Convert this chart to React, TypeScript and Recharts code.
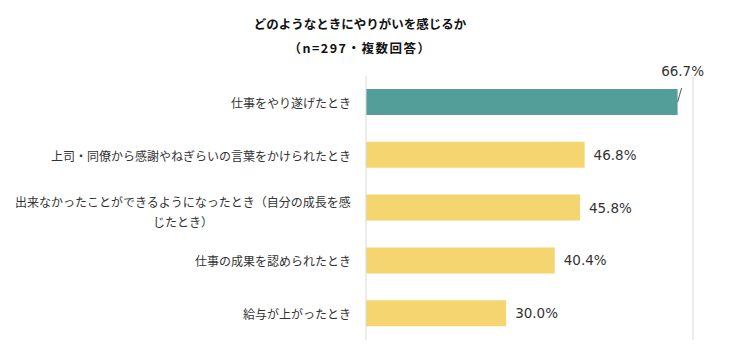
import React from 'react';
import { BarChart, Bar, XAxis, YAxis, Cell, LabelList, ReferenceLine } from 'recharts';

const categories = [
  '仕事をやり遂げたとき',
  '上司・同僚から感謝やねぎらいの言葉をかけられたとき',
  '出来なかったことができるようになったとき（自分の成長を感じたとき）',
  '仕事の成果を認められたとき',
  '給与が上がったとき',
];
const values = [66.7, 46.8, 45.8, 40.4, 30.0];
const barColors = ['#539E99', '#F4D570', '#F4D570', '#F4D570', '#F4D570'];
const titleLines = ['どのようなときにやりがいを感じるか', '（n=297・複数回答）'];

const data = categories.map((name, i) => ({ name, value: values[i] }));

const CJK = '"Noto Sans CJK JP", "Noto Sans", sans-serif';
const LABEL_RIGHT = 351;
const MAX_CHARS = 28;

const wrap = (s: string) => {
  const out: string[] = [];
  for (let i = 0; i < s.length; i += MAX_CHARS) out.push(s.slice(i, i + MAX_CHARS));
  return out;
};

const CategoryTick = (props: any) => {
  const { y, payload } = props;
  const lines = wrap(payload.value);
  if (lines.length === 1) {
    return (
      <text x={LABEL_RIGHT} y={y} textAnchor="end" dominantBaseline="central" fontSize={12} fill="#333" fontFamily={CJK}>
        {lines[0]}
      </text>
    );
  }
  const cx = LABEL_RIGHT - (lines[0].length * 12) / 2;
  return (
    <g>
      {lines.map((l, i) => (
        <text key={i} x={cx} y={y - 7 + i * 20} textAnchor="middle" dominantBaseline="central" fontSize={12} fill="#333" fontFamily={CJK}>
          {l}
        </text>
      ))}
    </g>
  );
};

const ValueLabel = (props: any) => {
  const { x, y, width, height, value, index } = props;
  const txt = `${Number(value).toFixed(1)}%`;
  const style = { fontSize: 13.5, fill: '#333', fontFamily: '"DejaVu Sans", sans-serif' };
  if (index === 0) {
    const ex = x + width;
    return (
      <g>
        <line x1={ex} y1={y + height / 2} x2={ex + 4} y2={y - 1} stroke="#595959" strokeWidth={1} />
        <text x={ex + 5} y={y - 18} textAnchor="middle" dominantBaseline="central" {...style}>{txt}</text>
      </g>
    );
  }
  return (
    <text x={x + width + 9} y={y + height / 2} textAnchor="start" dominantBaseline="central" {...style}>{txt}</text>
  );
};

export default function App() {
  return (
    <div style={{ position: 'absolute', left: 0, top: 0, width: 733, height: 360, background: '#fff' }}>
      <div style={{ position: 'absolute', left: 0, top: 12, width: 720, textAlign: 'center', fontFamily: CJK, fontWeight: 700, fontSize: 12.5, lineHeight: '24px', color: '#111' }}>
        <div>{titleLines[0]}</div>
        <div style={{ letterSpacing: 1.5 }}>{titleLines[1]}</div>
      </div>
      <BarChart
        width={733}
        height={360}
        data={data}
        layout="vertical"
        margin={{ top: 76, right: 40, bottom: 20, left: 0 }}
        barSize={26}
      >
        <XAxis type="number" domain={[0, 70]} hide />
        <YAxis
          type="category"
          dataKey="name"
          width={366}
          axisLine={{ stroke: '#d9d9d9' }}
          tickLine={false}
          tick={<CategoryTick />}
          interval={0}
        />
        <ReferenceLine x={70} stroke="#d9d9d9" />
        <Bar dataKey="value" isAnimationActive={false}>
          {data.map((_, i) => <Cell key={i} fill={barColors[i]} />)}
          <LabelList dataKey="value" content={<ValueLabel />} />
        </Bar>
      </BarChart>
    </div>
  );
}
